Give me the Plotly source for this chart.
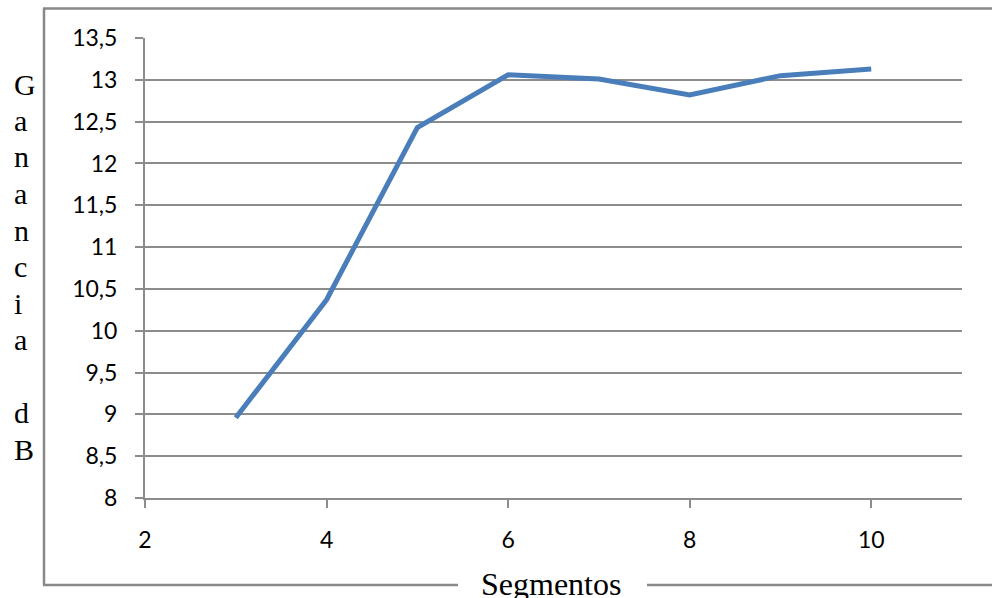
import plotly.graph_objects as go

# Gain (dB) versus number of segments
segmentos = [3, 4, 5, 6, 7, 8, 9, 10]
ganancia_db = [8.96, 10.37, 12.43, 13.06, 13.01, 12.82, 13.05, 13.13]

x_ticks = [2, 4, 6, 8, 10]
y_ticks = [8, 8.5, 9, 9.5, 10, 10.5, 11, 11.5, 12, 12.5, 13, 13.5]

W, H = 992, 598
L, R, T, B = 145, 30, 38, 100
PW, PH = W - L - R, H - T - B


def px_x(px):
    return (px - L) / PW


def px_y(py):
    return (H - B - py) / PH


grid_color = "#8c8c8c"
frame_color = "#898989"

fig = go.Figure()
fig.add_trace(go.Scatter(
    x=segmentos, y=ganancia_db, mode="lines",
    line=dict(color="#4A7EBB", width=5),
    showlegend=False, hoverinfo="x+y",
))

# outer frame with a gap at the bottom for the axis title
frame = [
    (44, 8.5, 44, 585),
    (43, 8.5, 1000, 8.5),
    (43, 585, 458, 585),
    (647, 585, 1000, 585),
]
shapes = [
    dict(type="line", xref="paper", yref="paper",
         x0=px_x(a), y0=px_y(b), x1=px_x(c), y1=px_y(d),
         line=dict(color=frame_color, width=2.5), layer="below")
    for a, b, c, d in frame
]

annotations = [dict(
    text="Segmentos", xref="paper", yref="paper",
    x=px_x(551), y=px_y(584), xanchor="center", yanchor="middle",
    showarrow=False,
    font=dict(family="Liberation Serif", size=32, color="#000000"),
)]

# vertical y-axis title, one letter per line
y_title = "Ganancia dB"
for i, ch in enumerate(y_title):
    if ch == " ":
        continue
    annotations.append(dict(
        text=ch, xref="paper", yref="paper",
        x=px_x(12), y=px_y(84 + i * 36.5), xanchor="left", yanchor="middle",
        showarrow=False,
        font=dict(family="Liberation Serif", size=30, color="#000000"),
    ))

fig.update_layout(
    width=W, height=H,
    margin=dict(l=L, r=R, t=T, b=B, pad=0),
    paper_bgcolor="white", plot_bgcolor="white",
    separators=",.",
    shapes=shapes, annotations=annotations,
    xaxis=dict(
        range=[2, 11], tickmode="array", tickvals=x_ticks,
        showgrid=False, zeroline=False,
        showline=True, linecolor=grid_color, linewidth=2,
        ticks="outside", ticklen=8, tickwidth=2, tickcolor=grid_color,
        ticklabelstandoff=12,
        tickfont=dict(family="Lato", size=23, color="#000000"),
    ),
    yaxis=dict(
        range=[8, 13.5], tickmode="array", tickvals=y_ticks,
        showgrid=True, gridcolor=grid_color, gridwidth=2,
        zeroline=False,
        showline=True, linecolor=grid_color, linewidth=2,
        ticks="outside", ticklen=8, tickwidth=2, tickcolor=grid_color,
        ticklabelstandoff=13,
        tickfont=dict(family="Lato", size=23, color="#000000"),
    ),
)

fig.write_html("out.html")
